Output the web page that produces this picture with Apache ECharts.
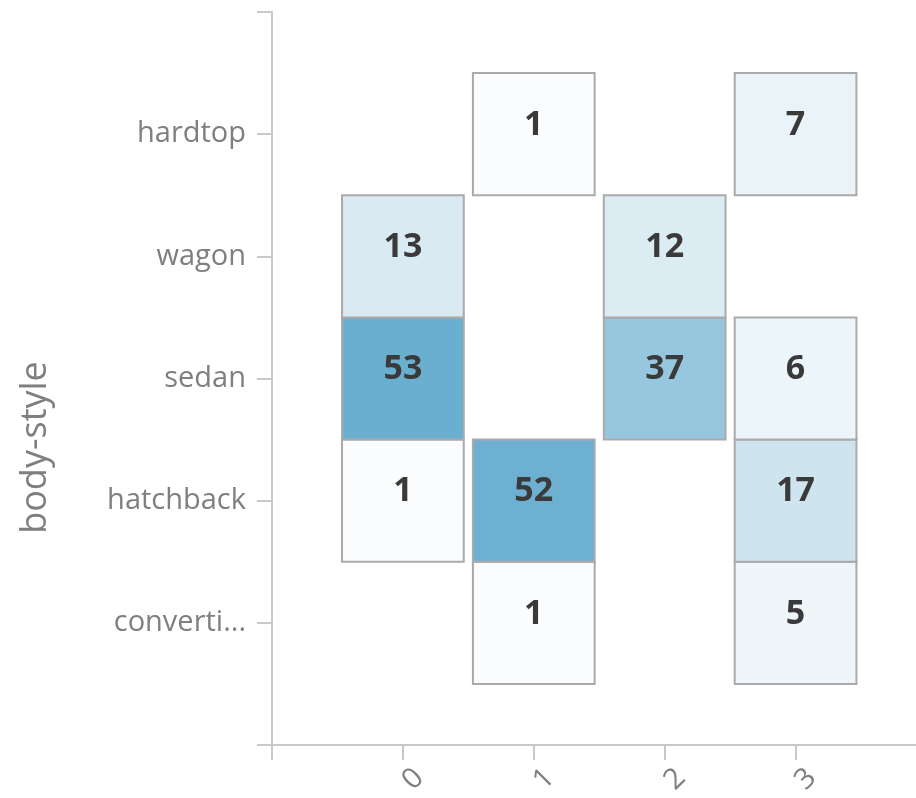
<!DOCTYPE html>
<html>
<head>
<meta charset="utf-8">
<script src="https://cdn.jsdelivr.net/npm/echarts@6/dist/echarts.min.js"></script>
<style>
html,body{margin:0;padding:0;background:#fff;}
#chart{width:916px;height:798px;}
</style>
</head>
<body>
<div id="chart"></div>
<script>
// Categories (bottom to top on the y axis)
const bodyStyles = ['convertible', 'hatchback', 'sedan', 'wagon', 'hardtop'];
// x categories
const xValues = [0, 1, 2, 3];
// Counts per body style, one entry per x value (null = no cell)
const convertibleCounts = [null, 1, null, 5];
const hatchbackCounts   = [1, 52, null, 17];
const sedanCounts       = [53, null, 37, 6];
const wagonCounts       = [13, null, 12, null];
const hardtopCounts     = [null, 1, null, 7];
// tick positions
const xTickValues = [-1, 0, 1, 2, 3];
const yTickValues = [-1, 0, 1, 2, 3, 4, 5];

const rows = [convertibleCounts, hatchbackCounts, sedanCounts, wagonCounts, hardtopCounts];
const data = [];
rows.forEach(function (row, yi) {
  row.forEach(function (v, xi) {
    if (v != null) data.push([xValues[xi], yi, v]);
  });
});

const FONT = '"Open Sans", "Noto Sans", sans-serif';
const chart = echarts.init(document.getElementById('chart'));
chart.setOption({
  animation: false,
  grid: { left: 272, top: 12, right: 0, bottom: 53, containLabel: false },
  xAxis: {
    type: 'value', min: -1, max: 3.92, interval: 1,
    splitLine: { show: false },
    axisLine: { show: true, onZero: false, lineStyle: { color: '#c8c8c8', width: 2 } },
    axisTick: { show: true, length: 15, customValues: xTickValues, lineStyle: { color: '#c8c8c8', width: 2 } },
    axisLabel: {
      rotate: 45, align: 'center', verticalAlign: 'top', margin: 24,
      customValues: xValues,
      color: '#7f7f7f', fontFamily: FONT, fontSize: 29,
      formatter: function (v) { return String(v); }
    }
  },
  yAxis: {
    type: 'value', min: -1, max: 5, interval: 1,
    splitLine: { show: false },
    axisLine: { show: true, onZero: false, lineStyle: { color: '#c8c8c8', width: 2 } },
    axisTick: { show: true, length: 15, customValues: yTickValues, lineStyle: { color: '#c8c8c8', width: 2 } },
    axisLabel: {
      margin: 26, color: '#7f7f7f', fontFamily: FONT, fontSize: 29,
      width: 146, overflow: 'truncate', ellipsis: '...',
      formatter: function (v) { return (v >= 0 && v < bodyStyles.length) ? bodyStyles[v] : ''; }
    },
    name: 'body-style', nameLocation: 'middle', nameGap: 218, nameRotate: 90,
    nameTextStyle: { color: '#7f7f7f', fontFamily: FONT, fontSize: 36, padding: [0, 138, 0, 0] }
  },
  visualMap: {
    show: false, type: 'continuous', min: 1, max: 53, dimension: 2,
    inRange: { color: ['#fafcfd', '#6aafd0'] }
  },
  series: [{
    type: 'custom',
    data: data,
    encode: { x: 0, y: 1 },
    renderItem: function (params, api) {
      const c = api.coord([api.value(0), api.value(1)]);
      const s = api.size([1, 1]);
      const w = s[0] * 0.93, h = s[1];
      return {
        type: 'rect',
        shape: { x: c[0] - w / 2, y: c[1] - h / 2, width: w, height: h },
        style: { fill: api.visual('color'), stroke: '#aaaaaa', lineWidth: 2 },
        textContent: {
          style: {
            text: String(api.value(2)), fill: '#3a3a3a',
            fontFamily: FONT, fontSize: 34, fontWeight: 'bold'
          }
        },
        textConfig: { position: 'inside', offset: [0, -9] }
      };
    }
  }]
});
</script>
</body>
</html>
